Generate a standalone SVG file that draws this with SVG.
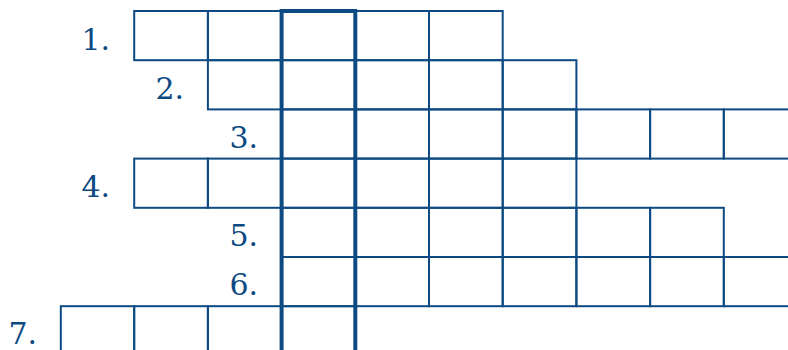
<svg xmlns="http://www.w3.org/2000/svg" width="788" height="350" viewBox="0 0 788 350">
<defs>
<style>
.c{fill:none;stroke:#0e4a82;stroke-width:2}
.hl{fill:none;stroke:#0e4a82;stroke-width:4}
.lb{font-family:"DejaVu Serif","Liberation Serif",serif;font-size:30px;fill:#0e4a82;text-anchor:end}
</style>
</defs>
<rect width="788" height="350" fill="#ffffff"/>
<g id="row1">
<text class="lb" x="110" y="50">1.</text>
<rect class="c" x="134.2" y="11" width="73.7" height="49.2"/>
<rect class="c" x="207.9" y="11" width="73.7" height="49.2"/>
<rect class="c" x="281.6" y="11" width="73.7" height="49.2"/>
<rect class="c" x="355.3" y="11" width="73.7" height="49.2"/>
<rect class="c" x="429" y="11" width="73.7" height="49.2"/>
</g>
<g id="row2">
<text class="lb" x="184" y="99">2.</text>
<rect class="c" x="207.9" y="60.2" width="73.7" height="49.2"/>
<rect class="c" x="281.6" y="60.2" width="73.7" height="49.2"/>
<rect class="c" x="355.3" y="60.2" width="73.7" height="49.2"/>
<rect class="c" x="429" y="60.2" width="73.7" height="49.2"/>
<rect class="c" x="502.7" y="60.2" width="73.7" height="49.2"/>
</g>
<g id="row3">
<text class="lb" x="258" y="148">3.</text>
<rect class="c" x="281.6" y="109.4" width="73.7" height="49.2"/>
<rect class="c" x="355.3" y="109.4" width="73.7" height="49.2"/>
<rect class="c" x="429" y="109.4" width="73.7" height="49.2"/>
<rect class="c" x="502.7" y="109.4" width="73.7" height="49.2"/>
<rect class="c" x="576.4" y="109.4" width="73.7" height="49.2"/>
<rect class="c" x="650.1" y="109.4" width="73.7" height="49.2"/>
<rect class="c" x="723.8" y="109.4" width="73.7" height="49.2"/>
</g>
<g id="row4">
<text class="lb" x="110" y="197">4.</text>
<rect class="c" x="134.2" y="158.6" width="73.7" height="49.2"/>
<rect class="c" x="207.9" y="158.6" width="73.7" height="49.2"/>
<rect class="c" x="281.6" y="158.6" width="73.7" height="49.2"/>
<rect class="c" x="355.3" y="158.6" width="73.7" height="49.2"/>
<rect class="c" x="429" y="158.6" width="73.7" height="49.2"/>
<rect class="c" x="502.7" y="158.6" width="73.7" height="49.2"/>
</g>
<g id="row5">
<text class="lb" x="258" y="246">5.</text>
<rect class="c" x="281.6" y="207.8" width="73.7" height="49.2"/>
<rect class="c" x="355.3" y="207.8" width="73.7" height="49.2"/>
<rect class="c" x="429" y="207.8" width="73.7" height="49.2"/>
<rect class="c" x="502.7" y="207.8" width="73.7" height="49.2"/>
<rect class="c" x="576.4" y="207.8" width="73.7" height="49.2"/>
<rect class="c" x="650.1" y="207.8" width="73.7" height="49.2"/>
</g>
<g id="row6">
<text class="lb" x="258" y="295">6.</text>
<rect class="c" x="281.6" y="257" width="73.7" height="49.2"/>
<rect class="c" x="355.3" y="257" width="73.7" height="49.2"/>
<rect class="c" x="429" y="257" width="73.7" height="49.2"/>
<rect class="c" x="502.7" y="257" width="73.7" height="49.2"/>
<rect class="c" x="576.4" y="257" width="73.7" height="49.2"/>
<rect class="c" x="650.1" y="257" width="73.7" height="49.2"/>
<rect class="c" x="723.8" y="257" width="73.7" height="49.2"/>
</g>
<g id="row7">
<text class="lb" x="37" y="344">7.</text>
<rect class="c" x="60.8" y="306.2" width="73.4" height="49.2"/>
<rect class="c" x="134.2" y="306.2" width="73.7" height="49.2"/>
<rect class="c" x="207.9" y="306.2" width="73.7" height="49.2"/>
<rect class="c" x="281.6" y="306.2" width="73.7" height="49.2"/>
</g>
<g id="solution-column">
<rect class="hl" x="281.6" y="11" width="73.7" height="360"/>
</g>
</svg>
